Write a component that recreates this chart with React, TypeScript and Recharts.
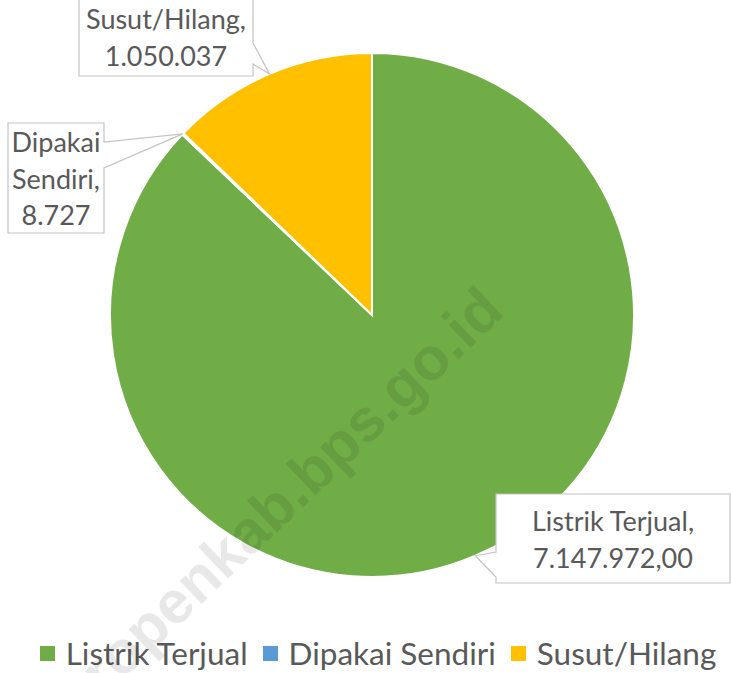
import React from 'react';
import { PieChart, Pie, Cell, Legend } from 'recharts';

const categories = ['Listrik Terjual', 'Dipakai Sendiri', 'Susut/Hilang'];
const values = [7147972, 8727, 1050037];
const valueDecimals = [2, 0, 0];
const labelWrap = [false, true, false];
const colors = ['#70AD47', '#5B9BD5', '#FFC000'];
const watermark = 'waropenkab.bps.go.id';

const data = categories.map((name, i) => ({ name, value: values[i] }));

const W = 731;
const H = 673;
const FONT = 'Lato, "Open Sans", sans-serif';
const TEXT = '#595959';
const BORDER = '#C4C4C4';
const LABEL_SIZE = 27;
const LEGEND_SIZE = 31.5;

function formatId(v: number, dec: number) {
  const fixed = v.toFixed(dec);
  const [intPart, decPart] = fixed.split('.');
  const withDots = intPart.replace(/\B(?=(\d{3})+(?!\d))/g, '.');
  return decPart ? withDots + ',' + decPart : withDots;
}

// callout box layout (one per category)
const labelBoxes = [
  { x: 496, y: 494, w: 234, h: 89, side: 'left', p1: 552, p2: 577, lineH: 37 },
  { x: 8, y: 123, w: 96, h: 110, side: 'right', p1: 142, p2: 168, lineH: 36.5 },
  { x: 79, y: -3, w: 174, h: 79, side: 'right', p1: 43, p2: 64, lineH: 37 },
];

const renderLabel = (props: any) => {
  const { cx, cy, midAngle, outerRadius, index } = props;
  const RAD = Math.PI / 180;
  const px = cx + outerRadius * Math.cos(-midAngle * RAD);
  const py = cy + outerRadius * Math.sin(-midAngle * RAD);
  const b = labelBoxes[index];
  const name = categories[index];
  let lines: string[];
  if (labelWrap[index]) {
    const words = name.split(' ');
    words[words.length - 1] = words[words.length - 1] + ',';
    lines = words;
  } else {
    lines = [name + ','];
  }
  lines.push(formatId(values[index], valueDecimals[index]));
  const x0 = b.x;
  const x1 = b.x + b.w;
  const y0 = b.y;
  const y1 = b.y + b.h;
  let pts: number[][];
  if (b.side === 'left') {
    pts = [[x0, y0], [x1, y0], [x1, y1], [x0, y1], [x0, b.p2], [px, py], [x0, b.p1]];
  } else {
    pts = [[x0, y0], [x1, y0], [x1, b.p1], [px, py], [x1, b.p2], [x1, y1], [x0, y1]];
  }
  const tx = (x0 + x1) / 2;
  const midY = (y0 + y1) / 2;
  const startY = midY - ((lines.length - 1) * b.lineH) / 2;
  return (
    <g key={'lbl' + index}>
      <polygon
        points={pts.map((p) => p.join(',')).join(' ')}
        fill="#fff"
        stroke={BORDER}
        strokeWidth={1.2}
      />
      {lines.map((ln, i) => (
        <text
          key={i}
          x={tx}
          y={startY + i * b.lineH}
          textAnchor="middle"
          dominantBaseline="central"
          fill={TEXT}
          fontFamily={FONT}
          fontSize={LABEL_SIZE}
        >
          {ln}
        </text>
      ))}
    </g>
  );
};

const renderLegend = () => (
  <div
    style={{
      display: 'flex',
      justifyContent: 'center',
      alignItems: 'center',
      paddingLeft: 25,
      fontFamily: FONT,
      fontSize: LEGEND_SIZE,
      color: TEXT,
      whiteSpace: 'nowrap',
    }}
  >
    {categories.map((c, i) => (
      <div key={c} style={{ display: 'flex', alignItems: 'center', marginLeft: i === 0 ? 0 : 15 }}>
        <span
          style={{
            display: 'inline-block',
            width: 15,
            height: 15,
            background: colors[i],
            marginRight: 11,
          }}
        />
        <span>{c}</span>
      </div>
    ))}
  </div>
);

export default function App() {
  return (
    <div style={{ position: 'absolute', left: 0, top: 0, width: W, height: H, background: '#fff', overflow: 'hidden' }}>
      <PieChart width={W} height={H} margin={{ top: 0, right: 0, bottom: 0, left: 0 }}>
        <Pie
          data={data}
          dataKey="value"
          nameKey="name"
          cx={372}
          cy={315}
          outerRadius={262}
          startAngle={90}
          endAngle={-270}
          stroke="#fff"
          strokeWidth={2}
          label={renderLabel}
          labelLine={false}
          isAnimationActive={false}
        >
          {data.map((d, i) => (
            <Cell key={d.name} fill={colors[i]} />
          ))}
        </Pie>
        <Legend
          content={renderLegend}
          wrapperStyle={{ position: 'absolute', left: 0, top: 634, width: W, height: 38 }}
        />
      </PieChart>
      <svg
        width={W}
        height={H}
        style={{ position: 'absolute', left: 0, top: 0, pointerEvents: 'none' }}
      >
        <text
          x={276}
          y={533}
          textAnchor="middle"
          transform="rotate(-43.6 276 533)"
          fontFamily='"Liberation Sans", Arial, sans-serif'
          fontWeight={700}
          fontSize={60}
          fill="#000"
          fillOpacity={0.09}
          textLength={636}
          lengthAdjust="spacingAndGlyphs"
        >
          {watermark}
        </text>
      </svg>
    </div>
  );
}
